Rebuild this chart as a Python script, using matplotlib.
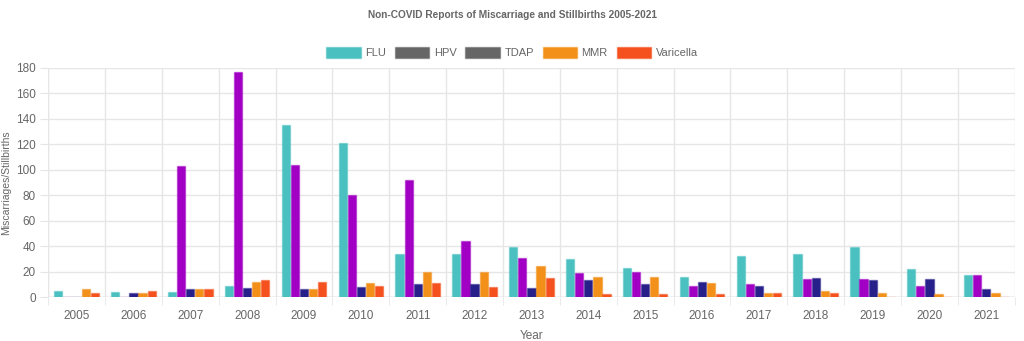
import numpy as np
import matplotlib
matplotlib.use("Agg")
import matplotlib.pyplot as plt
from matplotlib.patches import Patch

# data
years   = [str(y) for y in range(2005, 2022)]
flu     = [5, 4, 4, 9, 135, 121, 34, 34, 39, 30, 23, 16, 32, 34, 39, 22, 17]
hpv     = [0, 0, 103, 177, 104, 80, 92, 44, 31, 19, 20, 9, 10, 14, 14, 9, 17]
tdap    = [0, 3, 6, 7, 6, 8, 10, 10, 7, 13, 10, 12, 9, 15, 13, 14, 6]
mmr     = [6, 3, 6, 12, 6, 11, 20, 20, 24, 16, 16, 11, 3, 5, 3, 2, 3]
varic   = [3, 5, 6, 13, 12, 9, 11, 8, 15, 2, 2, 2, 3, 3, 0, 0, 0]

series  = [flu, hpv, tdap, mmr, varic]
names   = ["FLU", "HPV", "TDAP", "MMR", "Varicella"]
colors  = ["#4bc0c0", "#a100c4", "#28208a", "#f39019", "#f4511e"]
legend_colors = ["#4bc0c0", "#666666", "#666666", "#f39019", "#f4511e"]

plt.rcParams["font.family"] = ["Liberation Sans", "DejaVu Sans"]
txt = "#666666"

fig = plt.figure(figsize=(10.24, 3.41), dpi=100)
ax = fig.add_axes([0.047, 0.129, 0.944, 0.672])

x = np.arange(len(years))
n = len(series)
slot = 0.8 / n
width = slot * 0.9
for i, (vals, c) in enumerate(zip(series, colors)):
    off = (i - (n - 1) / 2) * slot
    ax.bar(x + off, vals, width=width, color=c,
           edgecolor=matplotlib.colors.to_rgba(c, 0.45), linewidth=1, zorder=3)

ax.set_xlim(-0.5, len(years) - 0.5)
ax.set_ylim(0, 180)
ax.set_yticks(range(0, 181, 20))
ax.set_xticks(x)
ax.set_xticklabels(years)
ax.set_xticks(np.arange(-0.5, len(years), 1), minor=True)
ax.grid(axis="y", which="major", color="#e6e6e6", linewidth=1, zorder=0)
ax.grid(axis="x", which="minor", color="#e6e6e6", linewidth=1, zorder=0)
ax.tick_params(axis="x", which="major", length=0, pad=9, labelsize=8.5, labelcolor=txt)
ax.tick_params(axis="x", which="minor", length=6, color="#e6e6e6")
ax.tick_params(axis="y", length=6, color="#e6e6e6", pad=3, labelsize=8.5, labelcolor=txt)
for s in ax.spines.values():
    s.set_visible(False)
ax.axhline(0, color="#d0d0d0", linewidth=1, zorder=2)
ax.axvline(-0.5, color="#e6e6e6", linewidth=1, zorder=0)

ax.set_ylabel("Miscarriages/Stillbirths", fontsize=7.5, color=txt, labelpad=3)
ax.set_xlabel("Year", fontsize=8.5, color=txt, labelpad=6)

fig.text(0.5, 0.955, "Non-COVID Reports of Miscarriage and Stillbirths 2005-2021",
         ha="center", va="center", fontsize=7.3, fontweight="bold", color=txt)

handles = [Patch(facecolor=c, edgecolor=matplotlib.colors.to_rgba(c, 0.5), linewidth=1)
           for c in legend_colors]
fig.legend(handles, names, loc="center", bbox_to_anchor=(0.5, 0.845), ncol=5,
           frameon=False, fontsize=8, labelcolor=txt, handlelength=3.1,
           handleheight=1.1, handletextpad=0.4, columnspacing=0.8)

fig.savefig("out.png", dpi=100)
plt.close(fig)
